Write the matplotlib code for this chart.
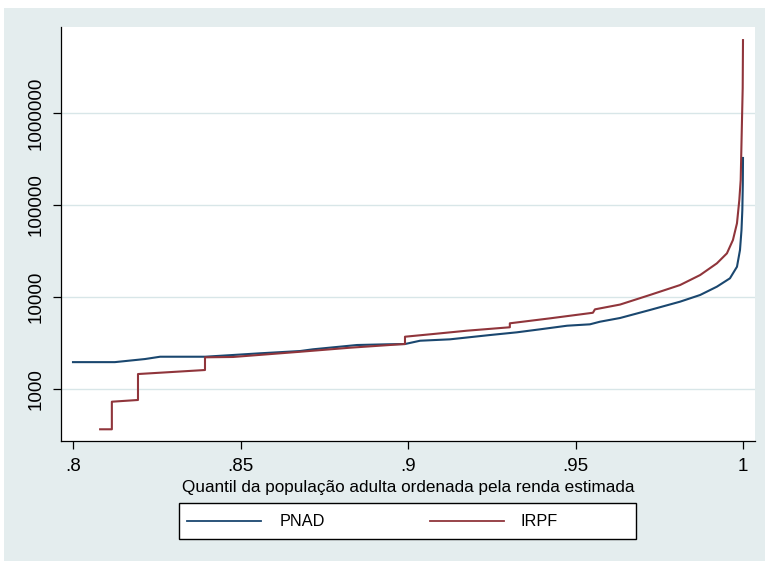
import matplotlib
matplotlib.use("Agg")
import matplotlib.pyplot as plt
from matplotlib.patches import Rectangle
from matplotlib.lines import Line2D

plt.rcParams['font.family'] = ['Liberation Sans', 'DejaVu Sans']

# Quantile (x) and estimated income (y) for each series
pnad_q = [0.8000, 0.8125, 0.8215, 0.8260, 0.8394, 0.8478, 0.8558, 0.8678, 0.8716,
          0.8848, 0.8937, 0.8991, 0.9036, 0.9125, 0.9245, 0.9325, 0.9394, 0.9475,
          0.9543, 0.9573, 0.9633, 0.9722, 0.9812, 0.9872, 0.9922, 0.9961, 0.9982,
          0.9991, 0.99955, 0.9998, 0.99994, 1.0]
pnad_v = [1960, 1960, 2118, 2244, 2244, 2344, 2444, 2588, 2701,
          3009, 3062, 3084, 3349, 3468, 3863, 4133, 4455, 4877,
          5049, 5390, 5915, 7226, 8897, 10520, 12950, 15970, 21320,
          32410, 53460, 88300, 164900, 324600]

irpf_q = [0.8081, 0.8116, 0.8116, 0.8194, 0.8194, 0.8394, 0.8394, 0.8478, 0.8678,
          0.8827, 0.8976, 0.8991, 0.8991, 0.9075, 0.9176, 0.9304, 0.9304, 0.9424,
          0.9552, 0.9558, 0.9633, 0.9722, 0.9812, 0.9872, 0.9922, 0.9952, 0.9970,
          0.9982, 0.99890, 0.99931, 0.99970, 0.99991, 1.0]
irpf_v = [365, 365, 728, 760, 1455, 1609, 2211, 2230, 2541,
          2812, 3062, 3084, 3703, 3961, 4305, 4690, 5180, 5865,
          6745, 7345, 8280, 10520, 13490, 17330, 23230, 29840, 41690,
          63280, 113300, 187000, 840000, 1870000, 6200000]

y_ticks = [1000, 10000, 100000, 1000000]
y_tick_labels = ["1000", "10000", "100000", "1000000"]
x_ticks = [0.8, 0.85, 0.9, 0.95, 1.0]
x_tick_labels = [".8", ".85", ".9", ".95", "1"]
series_names = ["PNAD", "IRPF"]

W, H = 765, 561
fig = plt.figure(figsize=(W / 100, H / 100), dpi=100, facecolor="white")
bg = "#E4EDEE"
fig.add_artist(Rectangle((4 / W, 0), 1, 1 - 8 / H, transform=fig.transFigure,
                         facecolor=bg, edgecolor="none", zorder=-10))

ax = fig.add_axes([61 / W, 120 / H, (755 - 61) / W, (441 - 27) / H])
ax.set_facecolor("white")
blue = "#1A476F"
red = "#90353B"
ax.plot(pnad_q, pnad_v, color=blue, lw=1.5, zorder=3)
ax.plot(irpf_q, irpf_v, color=red, lw=1.5, zorder=4)

ax.set_yscale("log")
ax.set_ylim(10 ** 2.435, 10 ** 6.935)
ax.set_xlim(0.8 - 12 / 3350, 1 + 12 / 3350)
ax.set_yticks(y_ticks)
ax.set_yticklabels(y_tick_labels, rotation=90, va="center")
ax.yaxis.set_minor_locator(matplotlib.ticker.NullLocator())
ax.set_xticks(x_ticks)
ax.set_xticklabels(x_tick_labels)
ax.tick_params(axis="both", labelsize=13.5, length=6, width=0.9, color="black",
               direction="out")
ax.tick_params(axis="y", pad=6)
ax.tick_params(axis="x", pad=6)
ax.grid(axis="y", color="#D8E6E8", lw=1.0, zorder=0)
for s in ["top", "right"]:
    ax.spines[s].set_visible(False)
for s in ["left", "bottom"]:
    ax.spines[s].set_color("black")
    ax.spines[s].set_linewidth(0.9)
ax.set_xlabel("Quantil da população adulta ordenada pela renda estimada",
              fontsize=12.3, labelpad=4)

# legend (drawn as Stata-style box)
fig.add_artist(Rectangle((179 / W, 1 - 539 / H), (636 - 179) / W, 36 / H,
                         transform=fig.transFigure, facecolor="white",
                         edgecolor="black", lw=1.0))
ly = 1 - 521 / H
fig.add_artist(Line2D([187 / W, 261 / W], [ly, ly], transform=fig.transFigure,
                      color=blue, lw=1.3))
fig.add_artist(Line2D([430 / W, 504 / W], [ly, ly], transform=fig.transFigure,
                      color=red, lw=1.3))
fig.text(280 / W, ly, series_names[0], fontsize=11.7, va="center", ha="left")
fig.text(521 / W, ly, series_names[1], fontsize=11.7, va="center", ha="left")

fig.savefig("out.png", dpi=100, facecolor="white")
